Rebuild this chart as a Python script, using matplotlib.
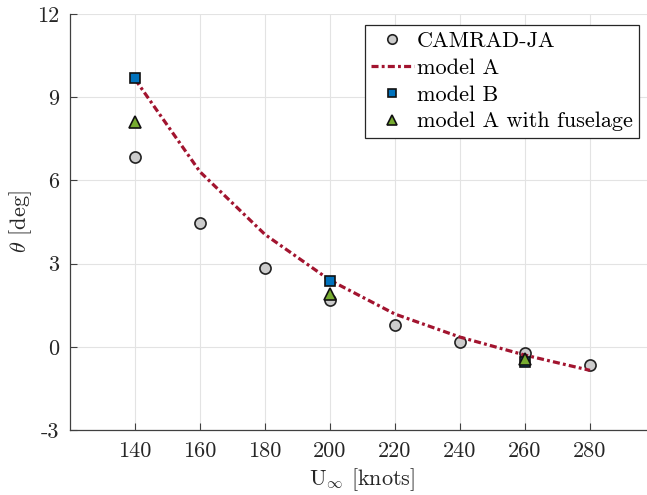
import matplotlib
matplotlib.use("Agg")
import matplotlib.pyplot as plt

plt.rcParams['font.family'] = 'serif'
plt.rcParams['font.serif'] = ['cmr10']
plt.rcParams['mathtext.fontset'] = 'cm'
plt.rcParams['axes.formatter.use_mathtext'] = True
plt.rcParams['font.size'] = 16

# Data
camrad_x = [140, 160, 180, 200, 220, 240, 260, 280]
camrad_y = [6.86, 4.47, 2.83, 1.67, 0.80, 0.19, -0.24, -0.65]
modelA_x = [140, 160, 180, 200, 220, 240, 260, 280]
modelA_y = [9.65, 6.31, 4.05, 2.40, 1.18, 0.35, -0.30, -0.85]
modelB_x = [140, 200, 260]
modelB_y = [9.70, 2.37, -0.55]
fus_x = [140, 200, 260]
fus_y = [8.09, 1.92, -0.44]
xticks = [140, 160, 180, 200, 220, 240, 260, 280]
yticks = [-3, 0, 3, 6, 9, 12]
ytick_labels = ['-3', '0', '3', '6', '9', '12']

fig = plt.figure(figsize=(6.47, 4.95), dpi=100)
ax = fig.add_axes([70/647, 65/495, 585/647, 416/495])

ax.plot(modelA_x, modelA_y, linestyle=(0, (2.2, 1.0, 0.9, 1.0)), color='#A2142F',
        linewidth=2.3, label='model A', zorder=3)
ax.plot(camrad_x, camrad_y, linestyle='none', marker='o', markersize=8,
        markerfacecolor='#cccccc', markeredgecolor='#222222', markeredgewidth=1.2,
        label='CAMRAD-JA', zorder=2)
ax.plot(modelB_x, modelB_y, linestyle='none', marker='s', markersize=7.5,
        markerfacecolor='#0072BD', markeredgecolor='#111111', markeredgewidth=1.2,
        label='model B', zorder=4)
ax.plot(fus_x, fus_y, linestyle='none', marker='^', markersize=8.5,
        markerfacecolor='#77AC30', markeredgecolor='#111111', markeredgewidth=1.2,
        label='model A with fuselage', zorder=5)

ax.set_xlim(120, 300)
ax.set_ylim(-3, 12)
ax.set_xticks(xticks)
ax.set_xticklabels([str(t) for t in xticks])
ax.set_yticks(yticks)
ax.set_yticklabels(ytick_labels)
ax.grid(True, color='#e3e3e3', linewidth=0.8)
ax.set_axisbelow(True)
for s in ['top', 'right']:
    ax.spines[s].set_visible(False)
for s in ['left', 'bottom']:
    ax.spines[s].set_color('#404040')
    ax.spines[s].set_linewidth(0.9)
ax.tick_params(direction='in', length=5, width=0.8, color='#404040',
               labelcolor='#262626', labelsize=16, pad=8)

ax.set_xlabel(r'U$_\infty$ [knots]', fontsize=16, color='#262626', labelpad=4)
ax.set_ylabel(r'$\theta$ [deg]', fontsize=16, color='#262626', labelpad=2)

handles, labels = ax.get_legend_handles_labels()
order = [1, 0, 2, 3]
leg = ax.legend([handles[i] for i in order], [labels[i] for i in order],
                loc='upper right', bbox_to_anchor=(639/647, 1 - 25/495),
                bbox_transform=fig.transFigure, borderaxespad=0,
                fancybox=False, edgecolor='#262626', framealpha=1,
                fontsize=16, handlelength=1.9, handletextpad=0.15,
                labelspacing=0.33, borderpad=0.28, markerscale=0.85)
leg.get_frame().set_linewidth(0.9)

fig.savefig('out.png', dpi=100)
